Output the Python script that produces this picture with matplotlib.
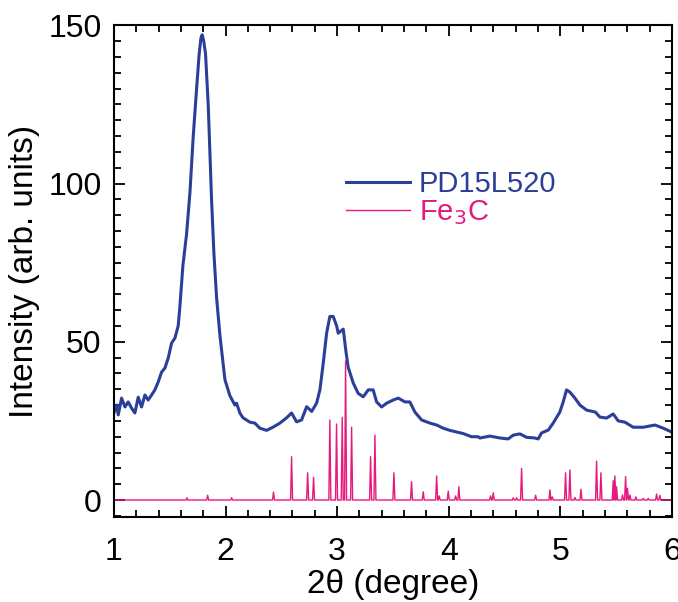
import matplotlib
matplotlib.use('Agg')
import matplotlib.pyplot as plt
from matplotlib.ticker import MultipleLocator
import numpy as np

plt.rcParams['font.family'] = ['Liberation Sans', 'DejaVu Sans']

# measured XRD pattern (2theta in degree, intensity in arb. units)
two_theta = [1.000, 1.024, 1.039, 1.069, 1.099, 1.128, 1.159, 1.188, 1.218, 1.248,
             1.278, 1.307, 1.338, 1.367, 1.397, 1.427, 1.457, 1.487, 1.517, 1.547,
             1.576, 1.591, 1.618, 1.651, 1.681, 1.711, 1.741, 1.764, 1.780, 1.791,
             1.805, 1.821, 1.845, 1.860, 1.875, 1.896, 1.920, 1.950, 1.995, 2.039,
             2.084, 2.099, 2.129, 2.156, 2.219, 2.263, 2.308, 2.368, 2.425, 2.487,
             2.548, 2.592, 2.637, 2.682, 2.727, 2.772, 2.816, 2.846, 2.875, 2.906,
             2.935, 2.965, 2.996, 3.010, 3.055, 3.079, 3.099, 3.144, 3.189, 3.234,
             3.279, 3.323, 3.354, 3.399, 3.444, 3.503, 3.548, 3.608, 3.652, 3.697,
             3.757, 3.832, 3.892, 3.951, 4.011, 4.071, 4.130, 4.205, 4.264, 4.280,
             4.369, 4.459, 4.533, 4.578, 4.638, 4.698, 4.772, 4.802, 4.832, 4.892,
             4.936, 4.996, 5.026, 5.056, 5.086, 5.131, 5.176, 5.236, 5.314, 5.355,
             5.415, 5.474, 5.519, 5.579, 5.653, 5.743, 5.848, 5.922, 5.997]
intensity = [27.5, 30.0, 26.9, 32.2, 29.4, 31.0, 29.0, 27.5, 32.5, 29.4,
             33.2, 31.6, 33.2, 34.8, 37.3, 40.4, 41.7, 44.9, 49.6, 51.2,
             55.0, 61.0, 74.0, 84.0, 97.0, 115.0, 130.0, 141.0, 146.0, 147.0,
             145.0, 141.0, 125.0, 110.0, 95.0, 78.0, 64.0, 52.0, 38.0, 33.0,
             30.0, 30.6, 27.5, 26.0, 24.6, 24.3, 22.7, 22.0, 23.0, 24.3,
             26.0, 27.5, 24.7, 25.3, 29.5, 28.0, 30.6, 34.8, 43.0, 52.7,
             58.0, 58.0, 55.0, 52.7, 54.0, 47.0, 42.0, 37.0, 33.7, 32.6,
             34.8, 34.8, 31.0, 29.4, 30.6, 31.6, 32.2, 31.0, 31.0, 27.8,
             25.3, 24.3, 23.7, 22.7, 22.0, 21.5, 21.0, 20.0, 20.0, 19.6,
             20.2, 19.6, 19.3, 20.5, 20.9, 19.8, 19.6, 19.3, 21.2, 22.1,
             24.3, 27.8, 31.0, 34.8, 34.1, 32.2, 30.0, 28.4, 27.8, 26.2,
             25.9, 27.2, 25.0, 24.6, 23.0, 23.0, 23.7, 22.7, 21.5]

# Fe3C reference reflections
fe3c_pos = [1.654, 1.840, 2.055, 2.430, 2.592, 2.736, 2.789, 2.935, 2.995, 3.046,
            3.076, 3.130, 3.300, 3.339, 3.509, 3.667, 3.772, 3.892, 3.915, 3.996,
            4.062, 4.091, 4.375, 4.399, 4.578, 4.608, 4.653, 4.779, 4.907, 4.928,
            5.047, 5.086, 5.131, 5.185, 5.325, 5.364, 5.474, 5.489, 5.504, 5.558,
            5.585, 5.602, 5.624, 5.677, 5.743, 5.788, 5.863, 5.892]
fe3c_int = [0.7, 1.5, 0.7, 2.5, 13.7, 8.6, 7.2, 25.3, 24.0, 26.1,
            44.0, 23.0, 13.7, 20.5, 8.6, 5.8, 2.6, 7.6, 1.3, 2.8,
            1.3, 4.2, 1.3, 2.3, 0.7, 0.7, 10.0, 1.5, 3.2, 1.0,
            8.6, 9.5, 0.8, 3.4, 12.3, 8.6, 6.1, 7.6, 4.2, 1.6,
            7.4, 3.7, 1.6, 1.0, 0.5, 0.5, 1.9, 1.5]

blue = '#2b3f98'
pink = '#e6197f'

# narrow peak profile built from the reflection list
half = 0.009
px = [1.0]
py = [0.0]
for p, h in zip(fe3c_pos, fe3c_int):
    px += [p - half, p, p + half]
    py += [0.0, h, 0.0]
px.append(6.0)
py.append(0.0)

fig = plt.figure(figsize=(6.78, 6.02), dpi=100)
ax = fig.add_axes([0.168, 0.141, 0.823, 0.817])

ax.plot(two_theta, intensity, color=blue, lw=2.2, label='PD15L520')
ax.plot(px, py, color=pink, lw=1.0, label='Fe$_3$C')

ax.set_xlim(1, 6)
ax.set_ylim(-5.4, 150)
ax.xaxis.set_major_locator(MultipleLocator(1))
ax.xaxis.set_minor_locator(MultipleLocator(0.2))
ax.yaxis.set_major_locator(MultipleLocator(50))
ax.yaxis.set_minor_locator(MultipleLocator(5))
ax.tick_params(which='both', direction='in', top=True, right=True, width=1.3,
               labelsize=23)
ax.tick_params(axis='x', pad=14)
ax.tick_params(axis='y', pad=9)
ax.tick_params(which='major', length=8)
ax.tick_params(which='minor', length=5)
for s in ax.spines.values():
    s.set_linewidth(1.5)

ax.set_xlabel('2θ (degree)', fontsize=24, labelpad=2)
ax.set_ylabel('Intensity (arb. units)', fontsize=24, labelpad=6)

ax.legend(loc='upper left', bbox_to_anchor=(0.395, 0.73), frameon=False,
          fontsize=21, labelcolor='linecolor', handlelength=2.2,
          handletextpad=0.3, labelspacing=0.0, borderaxespad=0)

fig.savefig('out.png', dpi=100)
